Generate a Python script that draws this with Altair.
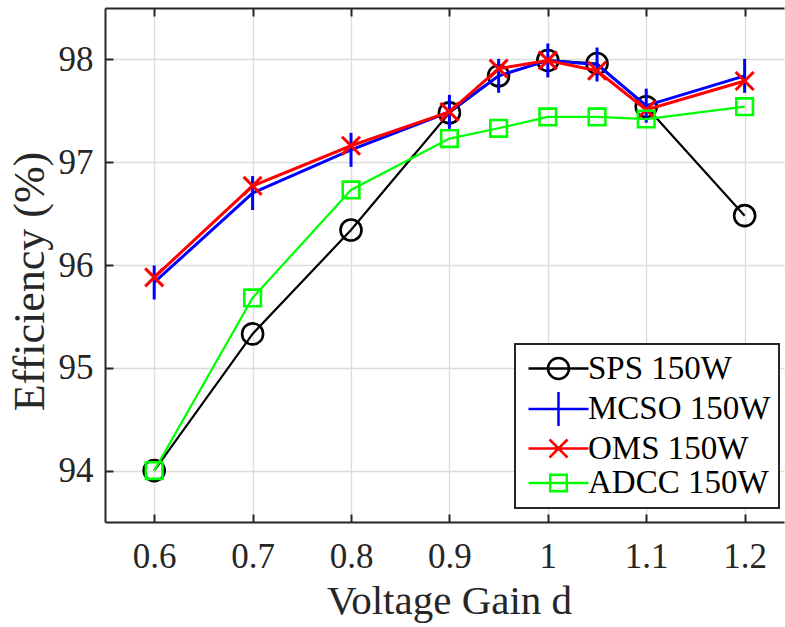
import altair as alt
import pandas as pd

# ---------------- data ----------------
gain = [0.6, 0.7, 0.8, 0.9, 0.95, 1.0, 1.05, 1.1, 1.2]
sps = [94.00, 95.33, 96.34, 97.48, 97.84, 97.99, 97.96, 97.54, 96.48]
mcso = [95.83, 96.70, 97.12, 97.49, 97.84, 97.99, 97.95, 97.55, 97.84]
oms = [95.88, 96.77, 97.16, 97.49, 97.91, 97.99, 97.89, 97.51, 97.79]
adcc = [94.00, 95.68, 96.73, 97.23, 97.33, 97.44, 97.44, 97.42, 97.54]
series_names = ["SPS 150W", "MCSO 150W", "OMS 150W", "ADCC 150W"]
x_ticks = [0.6, 0.7, 0.8, 0.9, 1.0, 1.1, 1.2]
y_ticks = [94, 95, 96, 97, 98]

# ---------------- styles ----------------
colors = ["#000000", "#0000ff", "#ff0000", "#00ff00"]
line_widths = [2.2, 3.0, 3.0, 2.2]
marker_widths = [2.6, 3.0, 3.0, 2.6]
marker_paths = [
    "M-1.05,0A1.05,1.05,0,1,1,1.05,0A1.05,1.05,0,1,1,-1.05,0Z",
    "M0,-1.7L0,1.7",
    "M-0.9,-0.9L0.9,0.9M-0.9,0.9L0.9,-0.9",
    "M-0.83,-0.83L0.83,-0.83L0.83,0.83L-0.83,0.83Z",
]
legend_paths = ["M-3,0L3,0" + p for p in marker_paths]

FONT = "Liberation Serif"
AX = "#262626"
GRID = "#dcdcdc"

values_by_series = [sps, mcso, oms, adcc]
df = pd.DataFrame({
    "gain": gain * len(series_names),
    "eff": [v for vals in values_by_series for v in vals],
    "series": [s for s in series_names for _ in gain],
})

xs = alt.Scale(domain=[0.55, 1.24], nice=False, zero=False)
ys = alt.Scale(domain=[93.5, 98.5], nice=False, zero=False)

base = alt.Chart(df)

# main axes: labels, domain, grid, titles
ax_main = base.mark_point(opacity=0).encode(
    x=alt.X("gain:Q", scale=xs, axis=alt.Axis(
        orient="bottom", values=x_ticks, format="~g",
        labelFont=FONT, labelFontSize=35, labelColor=AX,
        labelBaseline="alphabetic", labelPadding=45,
        labelFlush=False, labelOverlap=False,
        ticks=False, tickSize=0,
        domain=True, domainColor=AX, domainWidth=2,
        grid=True, gridColor=GRID, gridWidth=1.3,
        title="Voltage Gain d", titleFont=FONT, titleFontSize=41,
        titleFontWeight="normal", titleColor=AX,
        titleX=344, titleY=91.6, titleBaseline="alphabetic")),
    y=alt.Y("eff:Q", scale=ys, axis=alt.Axis(
        orient="left", values=y_ticks,
        labelFont=FONT, labelFontSize=35, labelColor=AX, labelPadding=12,
        labelFlush=False, labelOverlap=False,
        ticks=False, tickSize=0,
        domain=True, domainColor=AX, domainWidth=2,
        grid=True, gridColor=GRID, gridWidth=1.3,
        title="Efficiency (%)", titleFont=FONT, titleFontSize=44,
        titleFontWeight="normal", titleColor=AX,
        titleX=-62, titleY=273, titleBaseline="alphabetic")),
)

# inward ticks bottom / left
ax_ticks = base.mark_point(opacity=0).encode(
    x=alt.X("gain:Q", scale=xs, axis=alt.Axis(
        orient="bottom", values=x_ticks, labels=False, domain=False, grid=False,
        ticks=True, tickSize=8, tickColor=AX, tickWidth=2, offset=-8, title=None)),
    y=alt.Y("eff:Q", scale=ys, axis=alt.Axis(
        orient="left", values=y_ticks, labels=False, domain=False, grid=False,
        ticks=True, tickSize=8, tickColor=AX, tickWidth=2, offset=-8, title=None)),
)

# top border
ax_top = base.mark_point(opacity=0).encode(
    x=alt.X("gain:Q", scale=xs, axis=alt.Axis(
        orient="top", values=x_ticks, labels=False, ticks=False, grid=False,
        domain=True, domainColor=AX, domainWidth=2, title=None)),
    y=alt.Y("eff:Q", scale=ys, axis=None),
)

# top inward ticks
ax_top_ticks = base.mark_point(opacity=0).encode(
    x=alt.X("gain:Q", scale=xs, axis=alt.Axis(
        orient="top", values=x_ticks, labels=False, domain=False, grid=False,
        ticks=True, tickSize=8, tickColor=AX, tickWidth=2, offset=-8, title=None)),
    y=alt.Y("eff:Q", scale=ys, axis=None),
)

series_layers = []
for name, col, lw, mw, path in zip(series_names, colors, line_widths, marker_widths, marker_paths):
    sub = base.transform_filter(alt.datum.series == name)
    line = sub.mark_line(color=col, strokeWidth=lw).encode(
        x=alt.X("gain:Q", scale=xs, axis=None),
        y=alt.Y("eff:Q", scale=ys, axis=None),
    )
    pts = sub.mark_point(shape=path, size=400, filled=False, color=col,
                         strokeWidth=mw, opacity=1).encode(
        x=alt.X("gain:Q", scale=xs, axis=None),
        y=alt.Y("eff:Q", scale=ys, axis=None),
    )
    series_layers += [line, pts]

leg = alt.Legend(
    orient="none", legendX=410, legendY=336, title=None,
    symbolOpacity=1, symbolSize=400, symbolStrokeWidth=2.5,
    symbolOffset=19, labelOffset=13,
    labelFont=FONT, labelFontSize=33, labelColor="black", labelLimit=400,
    padding=8, rowPadding=0.5, strokeColor=AX, fillColor="white",
)

legend_layer = base.mark_point(opacity=0, filled=False, size=400).encode(
    x=alt.X("gain:Q", scale=xs, axis=None),
    y=alt.Y("eff:Q", scale=ys, axis=None),
    color=alt.Color("series:N", scale=alt.Scale(domain=series_names, range=colors), legend=leg),
    shape=alt.Shape("series:N", scale=alt.Scale(domain=series_names, range=legend_paths), legend=leg),
)

chart = alt.layer(
    ax_main, ax_ticks, ax_top, ax_top_ticks, *series_layers, legend_layer
).resolve_axis(
    x="independent", y="independent"
).properties(
    width=679, height=514,
    background="white",
    autosize=alt.AutoSizeParams(type="none"),
    padding={"left": 105, "top": 8, "right": 1, "bottom": 105},
).configure_view(
    stroke="transparent"
).configure_legend(
    strokeWidth=2
)

chart.save("out.html", embed_options={"renderer": "svg", "actions": False})
